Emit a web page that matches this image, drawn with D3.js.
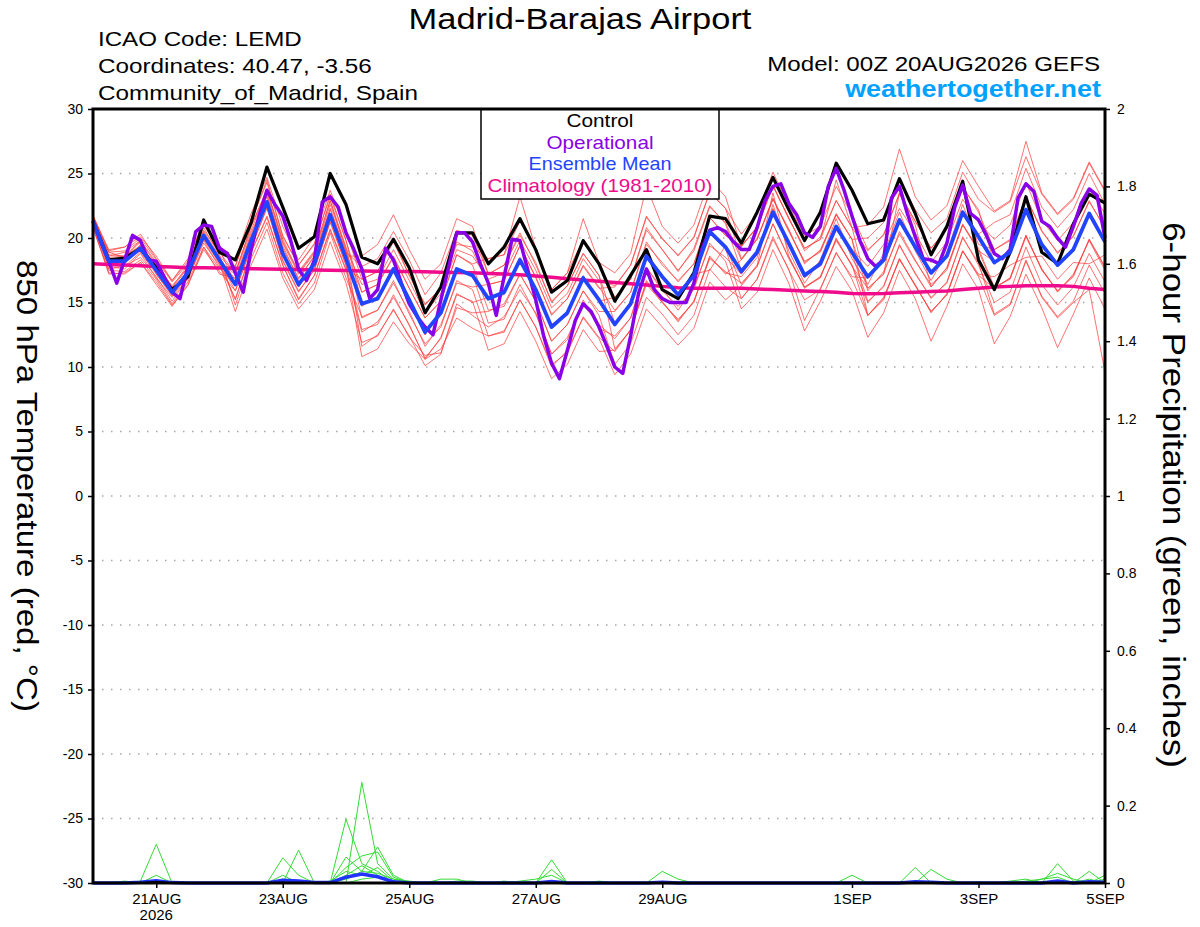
<!DOCTYPE html>
<html>
<head>
<meta charset="utf-8">
<script src="https://cdn.jsdelivr.net/npm/d3@7"></script>
<style>
body { margin: 0; background: #fff; }
svg text { font-family: "Liberation Sans", Arial, Helvetica, sans-serif; }
</style>
</head>
<body>
<div id="container"></div>
<script>
// forecast run: 00Z 20AUG2026, ensemble every 6h, operational every 3h
const startTime = Date.UTC(2026, 7, 20, 0);
const endTime = Date.UTC(2026, 8, 5, 0);
const ensStepHours = 6;
const operStepHours = 3;

const tickDates = [Date.UTC(2026, 7, 21), Date.UTC(2026, 7, 23), Date.UTC(2026, 7, 25), Date.UTC(2026, 7, 27),
    Date.UTC(2026, 7, 29), Date.UTC(2026, 8, 1), Date.UTC(2026, 8, 3), Date.UTC(2026, 8, 5)];
const dateLabels = ['21AUG', '23AUG', '25AUG', '27AUG', '29AUG', '1SEP', '3SEP', '5SEP'];
const yearLabel = '2026';

const tempTicks = [-30, -25, -20, -15, -10, -5, 0, 5, 10, 15, 20, 25, 30];
const tempTickLabels = ['-30', '-25', '-20', '-15', '-10', '-5', '0', '5', '10', '15', '20', '25', '30'];
const precipTicks = [0, 0.2, 0.4, 0.6, 0.8, 1, 1.2, 1.4, 1.6, 1.8, 2];
const precipTickLabels = ['0', '0.2', '0.4', '0.6', '0.8', '1', '1.2', '1.4', '1.6', '1.8', '2'];

// 850 hPa temperature (C)
const control = [
    21.3, 18.3, 18.45, 19.2, 17.7, 16.0, 17.0, 21.4, 18.9,
    18.3, 21.2, 25.5, 22.4, 19.2, 20.1, 25.0, 22.6,
    18.5, 18.0, 19.9, 17.7, 14.2, 16.2, 20.4, 20.4,
    18.0, 19.3, 21.5, 19.1, 15.8, 16.7, 19.8, 18.0,
    15.1, 17.1, 19.1, 16.0, 15.3, 17.3, 21.7, 21.5,
    19.6, 22.0, 24.7, 22.2, 19.8, 22.0, 25.8, 23.7,
    21.1, 21.4, 24.6, 21.9, 18.7, 20.9, 24.4, 18.3,
    16.0, 18.9, 23.2, 18.9, 18.0, 21.1, 23.4, 22.7
];
const ensMean = [
    21.3, 18.2, 18.2, 19.2, 17.5, 15.8, 17.3, 20.2, 18.3,
    16.4, 19.8, 22.8, 18.8, 16.4, 18.0, 21.8, 18.4,
    14.9, 15.3, 17.6, 15.2, 12.7, 14.2, 17.6, 17.1,
    15.3, 15.8, 18.3, 16.0, 13.1, 14.2, 16.9, 15.2,
    13.3, 14.9, 18.6, 17.0, 15.6, 17.1, 20.5, 19.3,
    17.4, 18.9, 22.0, 19.6, 17.1, 18.0, 20.9, 18.9,
    17.0, 18.3, 21.4, 19.3, 17.3, 18.6, 22.0, 20.1,
    18.1, 18.9, 22.2, 19.5, 17.9, 19.1, 21.9, 19.7
];
const operational = [
    21.3, 19.7, 18.2, 16.5, 18.3, 20.2, 19.8, 18.3, 18.2, 17.0, 15.8, 15.3, 17.8,
    20.5, 21.0, 20.9, 19.2, 18.8, 17.3, 15.8, 19.1, 21.7, 23.7, 22.6, 21.7, 19.8,
    17.6, 16.7, 18.3, 22.8, 23.2, 22.4, 20.4, 19.1, 17.6, 15.3, 16.0, 19.2, 18.3,
    16.5, 14.9, 13.9, 13.1, 12.5, 15.2, 17.8, 20.4, 20.4, 19.7, 18.0, 16.5, 14.0,
    17.0, 19.9, 19.8, 17.5, 15.2, 12.4, 10.3, 9.1, 11.3, 13.6, 14.9, 14.3, 13.1,
    11.6, 10.0, 9.5, 12.4, 15.7, 17.6, 16.0, 15.3, 15.0, 15.0, 15.0, 16.5, 19.1,
    20.6, 20.8, 20.5, 19.7, 19.1, 19.1, 20.8, 22.9, 24.0, 24.2, 22.7, 21.8, 20.4,
    20.05, 20.9, 24.0, 25.4, 23.7, 21.7, 19.8, 18.4, 17.8, 18.3, 23.1, 24.0, 21.9,
    20.1, 18.4, 18.3, 18.0, 19.6, 22.4, 24.1, 21.9, 21.4, 20.2, 18.8, 18.4, 19.1,
    23.1, 24.2, 23.6, 21.3, 20.9, 20.0, 19.3, 20.9, 22.7, 23.8, 23.3, 20.0
];
const climatology = [
    18.0, 17.95, 17.9, 17.85, 17.8, 17.75, 17.7, 17.7, 17.68,
    17.65, 17.62, 17.6, 17.58, 17.55, 17.52, 17.5, 17.48,
    17.45, 17.42, 17.4, 17.4, 17.38, 17.35, 17.32, 17.3,
    17.25, 17.2, 17.15, 17.05, 16.95, 16.85, 16.75, 16.65,
    16.55, 16.45, 16.35, 16.25, 16.15, 16.1, 16.1, 16.1,
    16.1, 16.05, 16.0, 15.95, 15.9, 15.85, 15.8, 15.7,
    15.68, 15.7, 15.75, 15.8, 15.85, 15.9, 16.0, 16.1,
    16.2, 16.25, 16.3, 16.3, 16.3, 16.25, 16.1, 16.0
];

// ensemble members
const m01 = [21.6,18.6,18.9,19.8,18.1,16.2,17.9,20.6,18.9, 17.3,20.9,23.7,19.9,17.3,18.9,22.9,19.0, 11.6,12.5,14.4,12.4,10.1,11.0,14.9,14.0,
    13.1,13.9,16.0,14.2,11.0,12.1,15.2,13.0, 12.4,13.8,17.7,16.1,14.4,16.2,19.4,18.5, 17.2,18.8,22.3,19.4,16.9,18.2,20.6,19.1,
    17.8,19.5,22.3,20.4,18.1,19.7,23.0,21.2, 19.9,21.0,24.3,21.4,19.8,21.2,23.8,21.9];
const m02 = [21.1,17.6,17.8,18.5,17.0,15.1,16.9,19.6,17.9, 15.3,18.9,21.6,17.9,15.2,17.1,20.7,17.6, 16.8,17.4,19.9,17.1,14.9,16.1,19.5,19.3,
    18.4,18.7,23.2,19.2,16.0,17.3,21.5,18.1, 15.4,16.8,20.8,19.1,17.5,19.0,22.4,21.2, 18.3,19.9,23.1,20.5,18.2,18.9,21.8,19.9,
    15.9,17.4,20.3,18.2,16.4,17.5,21.0,19.2, 16.2,16.8,20.1,17.6,15.8,17.2,19.8,17.5];
const m03 = [21.6,19.0,19.3,20.3,18.4,16.7,18.2,21.4,19.2, 17.8,21.3,24.5,20.1,17.9,19.6,23.2,19.8, 15.8,16.4,18.5,16.1,13.8,15.1,18.7,17.9,
    14.4,14.7,17.2,15.1,12.0,13.3,15.9,14.0, 10.2,11.8,15.4,14.1,12.5,14.0,17.6,16.2, 15.3,16.8,19.9,17.6,13.6,16.1,18.8,17.0,
    16.9,18.4,21.5,19.1,17.4,18.7,22.1,20.3, 21.2,21.8,25.4,22.4,20.8,22.2,25.0,22.6];
const m04 = [20.9,17.3,17.2,18.1,16.4,14.7,16.4,19.1,17.4, 15.9,19.2,22.4,18.2,15.8,17.6,21.2,17.9, 10.8,11.4,13.5,11.8,10.6,11.4,13.8,13.0,
    12.4,12.8,15.2,13.1,10.2,11.1,13.9,12.3, 11.2,12.9,16.4,15.0,13.7,15.0,18.6,17.2, 18.3,20.0,23.0,20.7,18.0,19.1,21.8,19.9,
    20.0,21.2,24.5,22.2,20.4,21.5,25.1,23.0, 22.0,22.8,26.3,23.4,21.8,23.0,25.8,23.6];
const m05 = [21.4,18.3,18.0,19.5,17.4,15.9,17.5,20.1,18.4, 16.8,20.4,23.2,19.4,16.8,18.6,22.3,18.9, 17.8,18.4,20.5,18.3,15.6,17.3,20.6,20.2,
    17.2,17.9,20.2,18.1,15.0,16.3,18.8,17.1, 13.4,14.8,18.7,16.9,15.7,17.0,20.6,19.2, 15.3,16.8,20.1,17.5,15.2,16.0,18.9,16.8,
    14.0,15.4,18.3,16.4,14.2,15.7,19.0,17.2, 17.0,17.9,18.5,18.6,16.8,18.1,18.0,18.7];
const m06 = [21.7,18.7,18.6,19.8,17.9,16.3,17.7,20.8,18.7, 14.8,18.4,21.2,17.3,14.9,16.5,20.4,16.9, 13.9,14.4,16.5,14.3,11.6,13.3,16.5,16.2,
    16.4,16.7,19.4,17.0,14.0,15.3,17.8,16.1, 16.2,17.9,21.7,19.9,18.7,20.0,23.6,22.3, 20.3,21.9,25.1,22.5,20.2,20.9,24.0,21.8,
    19.1,20.2,23.5,21.3,19.2,20.7,23.9,22.2, 18.0,19.0,22.1,19.6,17.8,19.2,21.8,19.8];
const m07 = [21.0,17.8,17.6,18.8,16.9,15.4,16.8,19.8,17.7, 16.3,19.9,22.6,18.9,16.2,18.1,21.6,18.5, 14.7,15.5,17.4,15.3,12.5,14.4,17.4,17.2,
    13.4,13.7,16.4,14.1,11.0,12.3,14.8,13.3, 12.2,13.8,17.7,15.9,14.7,16.0,19.6,18.2, 14.5,15.8,19.1,16.5,12.8,15.1,17.8,15.9,
    12.3,14.2,17.5,15.3,12.0,14.7,18.0,16.0, 11.8,13.9,17.2,14.6,11.5,14.1,16.9,14.5];
const m08 = [21.7,19.1,19.3,20.1,18.6,16.7,18.4,21.1,19.4, 18.3,21.9,24.7,20.9,18.3,20.1,23.7,20.5, 16.8,17.4,19.7,17.1,14.8,16.1,19.7,19.0,
    16.4,16.7,19.4,16.9,14.1,15.3,17.9,16.2, 14.4,15.8,19.7,17.9,16.7,18.0,21.6,20.2, 19.4,20.8,24.1,21.5,19.2,19.9,24.5,20.8,
    21.0,22.4,26.9,23.2,21.4,22.5,26.0,24.0, 22.1,22.9,27.5,23.5,21.9,23.1,25.9,23.7];
const m09 = [21.3,18.0,18.3,19.0,17.6,15.6,17.4,20.0,18.2, 15.2,18.9,21.7,17.9,15.3,17.1,20.6,17.5, 12.7,13.5,15.4,13.3,10.6,12.3,15.7,15.0,
    15.4,15.6,18.5,15.8,13.3,14.0,17.1,15.1, 15.4,16.8,20.6,19.1,17.4,19.2,22.5,21.1, 17.5,18.7,22.2,19.4,17.3,17.8,21.0,18.8,
    15.1,16.2,19.5,17.2,15.4,16.5,20.1,17.9, 15.0,15.8,19.3,16.4,14.8,16.2,18.8,16.6];
const m10 = [20.9,17.2,17.3,18.1,16.6,14.8,16.3,19.3,17.2, 16.9,20.2,23.4,19.2,16.9,18.6,22.2,18.9, 15.8,16.4,18.6,16.1,13.8,15.1,18.7,18.0,
    18.4,18.7,21.3,19.1,16.0,17.3,19.9,18.1, 17.3,18.8,24.0,20.9,19.6,21.0,24.6,23.2, 19.3,20.9,24.1,21.5,19.2,19.9,22.9,20.8,
    16.1,17.2,20.5,18.3,16.2,17.7,21.0,19.0, 16.1,16.9,20.2,17.6,15.9,17.0,19.9,17.8];
const m11 = [21.5,18.5,18.6,19.4,17.9,16.1,17.7,20.5,18.6, 17.3,20.9,23.8,19.7,17.4,19.0,22.9,19.3, 13.8,14.4,16.7,14.1,11.8,13.1,16.7,16.0,
    12.4,12.7,15.2,13.1,10.0,11.3,13.8,12.2, 9.4,11.0,14.5,13.1,11.7,13.0,16.6,15.2, 16.3,17.8,21.1,18.5,16.2,17.0,19.8,17.9,
    14.0,15.2,18.4,16.3,14.3,15.6,19.0,17.0, 14.0,14.8,18.3,15.4,13.8,15.0,16.0,9.6];
const m12 = [21.1,17.9,17.8,18.9,17.2,15.5,17.0,19.9,18.0, 14.3,17.9,20.7,16.9,14.5,16.0,19.7,16.5, 11.9,12.4,14.5,12.3,10.9,11.1,14.6,14.2,
    14.3,14.9,17.2,15.1,12.0,13.3,15.9,14.3, 14.3,15.8,19.5,18.1,16.6,18.0,21.6,20.2, 19.4,20.8,24.0,21.6,19.0,20.1,22.9,20.8,
    19.0,20.3,23.4,21.3,19.2,20.7,24.0,22.0, 19.1,19.8,23.2,20.6,18.8,20.2,22.8,20.8];
const m13 = [21.8,18.9,19.0,20.0,18.3,16.6,18.0,21.0,19.1, 16.4,19.9,22.6,18.9,16.2,18.1,21.7,18.6, 18.6,19.5,21.8,19.1,16.8,18.0,21.5,20.9,
    17.2,17.9,20.4,17.9,15.1,16.3,18.8,17.1, 11.4,12.8,16.7,15.1,13.5,15.1,18.4,17.4, 16.5,17.8,21.1,18.4,16.2,16.9,20.0,17.8,
    16.1,17.2,23.5,21.0,16.2,17.7,21.1,19.0, 18.2,18.8,22.3,19.6,17.8,19.2,22.0,19.6];
const m14 = [20.7,17.5,17.4,18.3,16.8,14.9,16.6,19.3,17.6, 17.8,21.4,24.3,20.2,17.9,19.5,23.4,19.8, 15.0,15.2,17.7,15.3,12.5,14.3,17.5,17.2,
    15.2,15.9,18.2,16.1,13.0,14.3,16.8,15.3, 13.2,15.0,18.5,17.1,15.5,17.2,17.5,19.4, 16.4,17.9,23.5,18.6,16.1,17.0,19.9,17.9,
    15.0,16.3,19.4,17.3,15.3,16.6,20.0,18.1, 14.1,14.9,18.2,15.5,13.9,15.1,17.9,15.7];
const m15 = [21.4,18.1,18.2,19.3,17.4,15.9,17.2,20.4,18.2, 15.9,19.3,22.3,18.3,15.9,17.5,21.3,17.9, 12.9,13.3,15.6,13.2,10.7,12.2,15.6,15.1,
    11.3,11.8,14.3,12.0,9.1,10.2,12.9,11.2, 11.3,12.9,16.6,15.0,13.6,15.1,18.5,17.3, 17.0,18.5,22.6,19.0,16.5,18.3,21.5,18.4,
    16.4,18.8,22.0,19.0,16.7,18.9,22.6,19.5, 19.1,19.9,23.2,20.5,18.9,20.1,22.9,20.7];
const m16 = [21.2,18.9,18.5,19.7,17.2,15.6,17.1,20.0,18.1, 17.2,20.6,23.6,19.6,17.2,18.8,22.6,19.2, 16.4,16.8,19.1,16.7,14.2,15.7,19.1,18.6,
    16.8,17.3,19.8,17.5,14.6,15.7,18.4,16.7, 16.3,17.9,21.6,20.0,18.6,20.1,23.5,22.3, 18.4,19.9,23.0,20.6,18.1,19.0,21.9,19.9,
    14.0,15.3,18.4,16.3,14.3,15.6,19.0,17.1, 16.1,16.9,20.2,17.5,15.9,17.1,19.9,17.7];
const members = [m01, m02, m03, m04, m05, m06, m07, m08, m09, m10, m11, m12, m13, m14, m15, m16];

// 6-hour precipitation (inches), members that showed any rain
const p01 = [0,0,0,0.005,0.1,0,0,0,0,0,0,0,0, 0,0,0,0.165,0.05,0.03,0,0,0,0,0,0,0, 0,0,0,0.06,0,0,0,0,0,0,0,0,0,
    0,0,0,0,0,0,0,0,0,0,0,0,0, 0.04,0,0,0,0,0,0,0,0,0.05,0.005,0,0];
const p02 = [0,0,0,0,0,0,0,0,0,0,0,0,0.065, 0.02,0,0,0,0.26,0.05,0.01,0,0,0,0,0,0, 0,0,0,0,0,0,0,0,0,0,0.03,0.01,0,
    0,0,0,0,0,0,0,0,0,0,0,0,0, 0,0.035,0.01,0,0,0,0,0,0,0,0,0.03,0];
const p03 = [0,0,0,0,0.02,0,0,0,0,0,0,0,0, 0.085,0,0,0.067,0.03,0.093,0.02,0,0,0,0,0,0, 0,0,0,0.035,0,0,0,0,0,0,0,0,0,
    0,0,0,0,0,0,0,0,0,0.02,0,0,0, 0,0,0,0,0,0,0,0,0.01,0.025,0.01,0,0];
const p04 = [0,0,0,0,0,0,0,0,0,0,0,0,0.02, 0,0,0,0.04,0.07,0.08,0.015,0,0,0,0,0,0, 0,0.005,0.01,0.02,0,0,0,0,0,0,0,0,0,
    0,0,0,0,0,0,0,0,0,0,0,0,0, 0,0,0,0,0,0,0,0.005,0.01,0.015,0,0,0.02];
const p05 = [0,0,0,0,0,0,0,0,0,0,0,0,0, 0,0,0.005,0.03,0.02,0.04,0.005,0,0,0,0.005,0.005,0, 0.005,0,0,0,0,0,0,0,0,0,0,0,0,
    0,0,0,0,0,0,0,0,0,0,0,0,0, 0,0,0,0,0,0,0.005,0.01,0,0,0,0.01,0];
const p06 = [0,0,0.005,0,0,0,0,0,0,0,0,0,0.01, 0,0,0,0.02,0.045,0.02,0,0,0,0,0,0,0, 0,0,0,0,0,0,0.005,0,0,0,0,0,0,
    0,0,0,0,0,0,0,0,0,0,0,0,0, 0,0,0,0,0.003,0,0,0,0,0,0,0,0.01];
const p07 = [0,0,0,0,0,0,0,0,0,0,0,0,0, 0,0,0,0.01,0.03,0.025,0.01,0.005,0,0.01,0.01,0,0, 0,0,0,0,0,0,0,0,0,0,0,0,0,
    0,0,0,0,0,0,0,0,0,0,0,0,0, 0,0,0,0,0,0,0,0,0,0,0,0,0];
const p08 = [0,0,0,0,0.005,0,0,0,0,0,0,0,0, 0.005,0,0,0,0.01,0.015,0,0,0,0,0,0,0, 0,0,0,0,0,0,0,0,0,0,0,0,0,
    0,0,0,0,0,0,0,0,0,0,0,0,0, 0,0,0,0,0,0,0,0,0,0,0,0,0];
const precipMembers = [p01, p02, p03, p04, p05, p06, p07, p08];
const precipMean = [0,0,0,0.002,0.006,0.001,0,0,0,0,0,0,0.007, 0.005,0.001,0.001,0.015,0.023,0.016,0.003,0,0,0,0,0,0, 0,0,0,0.004,0,0,0,0,0,0,0.002,0,0,
    0,0,0,0,0,0,0,0,0,0,0,0,0, 0.003,0.002,0,0,0,0,0,0,0,0.005,0,0.003,0.002];
const precipControl = [0,0,0,0,0.004,0,0,0,0,0,0,0,0.001, 0,0,0,0,0,0,0,0,0,0,0,0,0, 0,0,0,0,0,0,0,0,0,0,0,0,0,
    0,0,0,0,0,0,0,0,0,0,0,0,0, 0,0,0,0,0,0,0,0,0,0,0,0,0];

const width = 1200;
const height = 927;
const plot = {left: 93, right: 1105, top: 109, bottom: 883};
const font = '"Liberation Sans", Arial, Helvetica, sans-serif';

const svg = d3.select('#container')
    .append('svg')
    .attr('width', width)
    .attr('height', height);

const x = d3.scaleUtc()
    .domain([new Date(startTime), new Date(endTime)])
    .range([plot.left, plot.right]);
const yT = d3.scaleLinear().domain([-30, 30]).range([plot.bottom, plot.top]);
const yP = d3.scaleLinear().domain([0, 2]).range([plot.bottom, plot.top]);

const timeAt = (i, step) => new Date(startTime + i * step * 3600 * 1000);

// the original lettering is a wide sans, so stretch text horizontally to the measured width
function stretchText(sel, base) {
    sel.each(function(d) {
        const w = this.getComputedTextLength();
        const k = d.len / w;
        d3.select(this).attr('transform', `${base(d)} scale(${k},1)`);
    });
}

// dotted grid lines
svg.append('g')
    .selectAll('line')
    .data(tempTicks.filter(t => t > -30 && t < 30))
    .join('line')
    .attr('x1', plot.left).attr('x2', plot.right)
    .attr('y1', d => yT(d)).attr('y2', d => yT(d))
    .attr('stroke', '#a8a8a8')
    .attr('stroke-width', 1.5)
    .attr('stroke-dasharray', '1.5,7.5');

const tempLine = step => d3.line()
    .x((d, i) => x(timeAt(i, step)))
    .y(d => yT(d));
const precipLine = d3.line()
    .x((d, i) => x(timeAt(i, ensStepHours)))
    .y(d => yP(d));

// ensemble members (thin red)
svg.append('g')
    .selectAll('path')
    .data(members)
    .join('path')
    .attr('d', tempLine(ensStepHours))
    .attr('fill', 'none')
    .attr('stroke', '#ff3c3c')
    .attr('stroke-opacity', 0.8)
    .attr('stroke-width', 0.9);

// precipitation
svg.append('g')
    .selectAll('path')
    .data(precipMembers)
    .join('path')
    .attr('d', precipLine)
    .attr('fill', 'none')
    .attr('stroke', '#33dd33')
    .attr('stroke-width', 1);

svg.append('path')
    .datum(precipMean)
    .attr('d', precipLine)
    .attr('fill', 'none')
    .attr('stroke', '#2233ff')
    .attr('stroke-width', 3.5);

svg.append('path')
    .datum(precipControl)
    .attr('d', precipLine)
    .attr('fill', 'none')
    .attr('stroke', '#000')
    .attr('stroke-width', 1.5);

// climatology, control, operational, mean
const mainLines = [
    {data: climatology, step: ensStepHours, color: '#f00a8c', w: 3.5},
    {data: control, step: ensStepHours, color: '#000000', w: 3.2},
    {data: operational, step: operStepHours, color: '#8a00e6', w: 3.5},
    {data: ensMean, step: ensStepHours, color: '#2244ff', w: 3.8}
];
mainLines.forEach(s => {
    svg.append('path')
        .datum(s.data)
        .attr('d', tempLine(s.step))
        .attr('fill', 'none')
        .attr('stroke', s.color)
        .attr('stroke-width', s.w)
        .attr('stroke-linejoin', 'round');
});

// axes
const styleAxis = g => {
    g.select('.domain').remove();
    g.attr('font-family', font).attr('font-size', 14);
    g.selectAll('.tick line').attr('stroke', '#000').attr('stroke-width', 1.5);
    g.selectAll('.tick text').attr('fill', '#000');
};

svg.append('g')
    .attr('transform', `translate(${plot.left},0)`)
    .call(d3.axisLeft(yT).tickValues(tempTicks).tickSize(5).tickPadding(5)
        .tickFormat((d, i) => tempTickLabels[i]))
    .call(styleAxis);

svg.append('g')
    .attr('transform', `translate(${plot.right},0)`)
    .call(d3.axisRight(yP).tickValues(precipTicks).tickSize(5).tickPadding(7)
        .tickFormat((d, i) => precipTickLabels[i]))
    .call(styleAxis);

const xAxis = svg.append('g')
    .attr('transform', `translate(0,${plot.bottom})`)
    .call(d3.axisBottom(x).tickValues(tickDates.map(d => new Date(d))).tickSize(5).tickPadding(5)
        .tickFormat((d, i) => dateLabels[i]))
    .call(styleAxis);
xAxis.attr('font-size', 15);

svg.append('text')
    .attr('x', x(new Date(tickDates[0])))
    .attr('y', 920)
    .attr('text-anchor', 'middle')
    .attr('font-size', 15)
    .text(yearLabel);

// legend box
const legendItems = [
    {label: 'Control', color: '#000000', len: 67},
    {label: 'Operational', color: '#8a00e6', len: 107},
    {label: 'Ensemble Mean', color: '#2244ff', len: 143},
    {label: 'Climatology (1981-2010)', color: '#f00a8c', len: 225}
];
svg.append('rect')
    .attr('x', 481).attr('y', plot.top)
    .attr('width', 238).attr('height', 90)
    .attr('fill', '#fff')
    .attr('stroke', '#000')
    .attr('stroke-width', 1.5);
svg.append('g')
    .selectAll('text')
    .data(legendItems)
    .join('text')
    .attr('text-anchor', 'middle')
    .attr('font-size', 17.5)
    .attr('fill', d => d.color)
    .text(d => d.label)
    .call(stretchText, d => `translate(600,${127 + legendItems.indexOf(d) * 21.5})`);

// plot frame
svg.append('rect')
    .attr('x', plot.left).attr('y', plot.top)
    .attr('width', plot.right - plot.left)
    .attr('height', plot.bottom - plot.top)
    .attr('fill', 'none')
    .attr('stroke', '#000')
    .attr('stroke-width', 3);

// header text
const header = [
    {text: 'Madrid-Barajas Airport', x: 580, y: 29, size: 29, anchor: 'middle', len: 343},
    {text: 'ICAO Code: LEMD', x: 98, y: 46, size: 20.5, anchor: 'start', len: 204},
    {text: 'Coordinates: 40.47, -3.56', x: 98, y: 73, size: 20.5, anchor: 'start', len: 274},
    {text: 'Community_of_Madrid, Spain', x: 98, y: 100, size: 20.5, anchor: 'start', len: 320},
    {text: 'Model: 00Z 20AUG2026 GEFS', x: 1100, y: 71, size: 20.5, anchor: 'end', len: 333},
    {text: 'weathertogether.net', x: 1101, y: 97, size: 23, anchor: 'end', len: 256, color: '#00a2ff', bold: true}
];
svg.append('g')
    .selectAll('text')
    .data(header)
    .join('text')
    .attr('text-anchor', d => d.anchor)
    .attr('font-size', d => d.size)
    .attr('font-weight', d => d.bold ? 'bold' : 'normal')
    .attr('fill', d => d.color || '#000')
    .text(d => d.text)
    .call(stretchText, d => `translate(${d.x},${d.y})`);

// axis titles, rotated to read top to bottom
const axisTitles = [
    {text: '850 hPa Temperature (red, °C)', x: 17, y: 486, size: 30, len: 452},
    {text: '6-hour Precipitation (green, inches)', x: 1163, y: 495, size: 31, len: 546}
];
svg.append('g')
    .selectAll('text')
    .data(axisTitles)
    .join('text')
    .attr('text-anchor', 'middle')
    .attr('font-size', d => d.size)
    .text(d => d.text)
    .call(stretchText, d => `translate(${d.x},${d.y}) rotate(90)`);
</script>
</body>
</html>
